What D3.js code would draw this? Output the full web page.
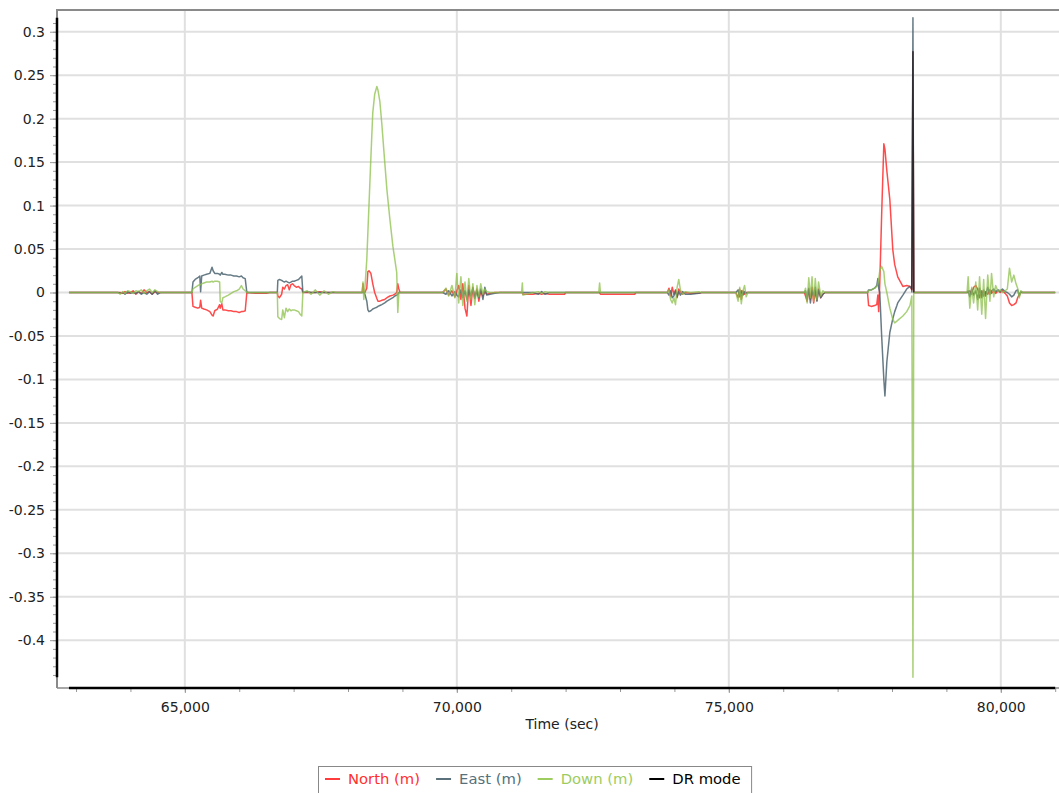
<!DOCTYPE html>
<html><head><meta charset="utf-8">
<script src="https://cdn.jsdelivr.net/npm/d3@7"></script>
<style>
html,body{margin:0;padding:0;background:#fff;}
svg{display:block;font-family:Verdana,"DejaVu Sans",sans-serif;}
</style></head><body>
<svg id="chart" width="1059" height="793"></svg>
<script>
// ---- data (time in seconds, values in metres) ----
const time = [
  62870, 63770, 63810, 63860, 63900, 63950, 64000, 64050, 64100, 64150, 64200, 64250, 64300, 64350, 64400, 64450, 64500, 64550,
  65130, 65150, 65190, 65240, 65275, 65290, 65310, 65350, 65400, 65460, 65500, 65520, 65550, 65600, 65640, 65650, 65680, 65700, 65735, 65800, 65850, 65900, 65950, 66000, 66040, 66070, 66110, 66140, 66300, 66500, 66560,
  66700, 66710, 66740, 66780, 66800, 66830, 66860, 66890, 66920, 66950, 66980, 67010, 67050, 67090, 67120, 67150, 67170, 67250, 67320, 67400, 67480, 67560, 67640, 67720, 67780,
  68260, 68275, 68290, 68310, 68345, 68365, 68385, 68420, 68455, 68490, 68530, 68550, 68585, 68620, 68675, 68715, 68770, 68825, 68860, 68895, 68915, 68935, 68955,
  69740, 69800, 69850, 69910, 69965, 70000, 70035, 70075, 70110, 70150, 70185, 70220, 70260, 70295, 70330, 70370, 70405, 70440, 70480, 70515, 70550, 70610, 70700, 70790,
  71190, 71205, 71215, 71400, 71500, 71560, 71620, 71700, 71980, 72000,
  72610, 72625, 72640, 73270, 73290,
  73870, 73900, 73930, 73960, 73990, 74020, 74050, 74080, 74110, 74150, 74200, 74300, 74450, 74500,
  75130, 75170, 75200, 75230, 75260, 75290, 75320, 75350,
  76390, 76410, 76440, 76470, 76500, 76530, 76560, 76590, 76620, 76650, 76690, 76730, 76770,
  77550, 77570, 77620, 77680, 77720, 77740, 77755, 77775, 77810, 77850, 77870, 77905, 77960, 78015, 78050, 78090, 78105, 78200, 78270, 78330, 78365, 78385, 78400,
  79380, 79400, 79430, 79465, 79500, 79540, 79575, 79610, 79650, 79685, 79720, 79760, 79800, 79830, 79870, 79905, 79950, 79990, 80030, 80080, 80120, 80160, 80200, 80240, 80280, 80310, 80340, 80370, 80400, 81000
];
const north = [
  0, 0, 0, -0.001, 0.001, -0.001, 0, 0.002, -0.002, 0.001, -0.001, 0.003, 0, 0.001, -0.002, 0.001, 0, 0,
  0, -0.016, -0.017, -0.018, -0.017, -0.009, -0.018, -0.019, -0.020, -0.022, -0.026, -0.027, -0.021, -0.019, -0.014, -0.018, -0.013, -0.020, -0.020, -0.021, -0.021, -0.022, -0.022, -0.023, -0.022, -0.022, -0.021, 0, -0.001, -0.001, 0,
  0, -0.004, -0.006, -0.002, 0.006, 0.004, 0.008, 0.009, 0.003, 0.009, 0.010, 0.008, 0.006, 0.007, 0.005, 0.004, 0, 0, 0, 0, 0.001, 0, 0, 0, 0,
  0, 0.010, 0, 0, 0.005, 0.024, 0.025, 0.022, 0.010, 0, -0.007, -0.010, -0.010, -0.009, -0.008, -0.006, -0.004, -0.003, -0.002, 0, 0.010, 0.004, 0,
  0, 0.004, -0.003, 0.002, -0.005, 0.002, 0.008, -0.008, 0.010, -0.018, -0.027, 0.008, -0.015, 0.006, -0.006, 0.004, -0.010, 0.002, -0.004, 0.001, -0.002, -0.001, 0, 0,
  0, 0, -0.002, -0.002, -0.001, -0.002, -0.001, -0.002, -0.002, 0,
  0, 0, -0.002, -0.002, 0,
  0, 0.005, -0.004, 0.006, -0.002, 0.003, -0.006, 0.004, 0.001, -0.002, 0, -0.001, -0.001, 0,
  0, -0.006, 0.004, -0.008, 0.002, -0.002, 0, 0,
  0, -0.004, -0.010, 0.004, -0.008, 0.006, -0.012, 0.002, -0.009, 0.004, -0.006, -0.002, 0,
  0, -0.015, -0.016, -0.015, -0.014, -0.003, -0.022, 0.010, 0.090, 0.171, 0.165, 0.140, 0.107, 0.049, 0.032, 0.022, 0.018, 0.007, 0.008, 0.007, 0.003, 0.277, 0,
  0, 0, 0.002, -0.002, 0.006, 0.008, 0.004, -0.006, 0.002, -0.004, 0.001, -0.002, 0.003, -0.001, 0.002, -0.001, 0.002, 0, 0.002, -0.001, -0.004, -0.012, -0.015, -0.014, -0.012, -0.006, -0.002, 0, 0, 0
];
const east = [
  0, 0, -0.001, 0, -0.002, 0.001, -0.001, 0, -0.001, 0.001, -0.002, 0, -0.002, 0.001, -0.002, 0.002, -0.002, 0,
  0, 0.012, 0.015, 0.017, 0.019, 0.001, 0.019, 0.020, 0.021, 0.022, 0.029, 0.025, 0.022, 0.022, 0.021, 0.020, 0.023, 0.021, 0.021, 0.020, 0.020, 0.019, 0.019, 0.018, 0.019, 0.017, 0.016, 0, 0, 0, 0,
  0, 0.014, 0.015, 0.014, 0.013, 0.012, 0.013, 0.012, 0.011, 0.012, 0.013, 0.013, 0.014, 0.015, 0.017, 0.019, 0, 0.001, 0, 0, 0, 0, 0, 0, 0,
  0, 0, 0, -0.002, -0.010, -0.020, -0.022, -0.021, -0.019, -0.018, -0.017, -0.016, -0.015, -0.014, -0.012, -0.010, -0.008, -0.006, -0.004, -0.003, -0.002, 0, 0,
  0, -0.002, 0.002, -0.004, 0.001, -0.003, -0.005, 0.003, -0.006, 0.002, -0.008, 0.003, -0.004, 0.005, -0.007, 0.002, -0.006, 0.004, -0.008, 0.006, -0.003, -0.002, -0.001, 0,
  0, 0, 0, 0, -0.002, 0.001, -0.002, 0, 0, 0,
  0, 0, 0, 0, 0,
  0, -0.003, 0.002, -0.006, -0.004, 0.002, -0.005, 0.001, -0.003, 0.001, -0.002, -0.002, -0.001, 0,
  0, 0.003, -0.005, 0.002, -0.003, 0.001, -0.001, 0,
  0, 0.002, -0.008, 0.005, -0.012, 0.002, -0.004, 0.006, -0.010, 0.003, -0.006, -0.002, 0,
  0, 0.003, 0.003, 0.005, 0.008, 0.016, 0.005, 0, -0.050, -0.100, -0.119, -0.080, -0.046, -0.030, -0.022, -0.015, -0.012, -0.003, 0.004, 0.007, 0.004, 0.316, 0,
  0, 0.002, -0.005, 0.004, -0.003, 0.002, -0.008, 0.005, -0.006, 0.003, -0.004, 0.006, -0.002, 0.002, 0.004, 0.001, 0.003, 0.001, 0.004, 0.001, 0, -0.002, -0.005, -0.003, 0.002, 0.003, -0.004, 0.001, 0, 0
];
const down = [
  0, 0, -0.002, 0.001, -0.001, 0.002, 0.001, -0.001, 0.002, 0.001, 0.003, -0.001, 0.002, 0.004, 0, 0.003, 0.001, 0,
  0, 0.004, 0.006, 0.008, 0.009, 0.009, 0.010, 0.011, 0.012, 0.012, 0.013, 0.012, 0.013, 0.013, 0.012, -0.010, -0.012, -0.006, -0.005, -0.003, -0.001, 0.001, 0.002, 0.004, 0.008, 0.004, 0.002, 0, 0, 0, 0,
  0, -0.028, -0.030, -0.031, -0.020, -0.029, -0.018, -0.022, -0.019, -0.021, -0.020, -0.020, -0.021, -0.022, -0.025, -0.027, 0, 0.002, -0.002, 0.003, -0.003, 0.002, -0.002, 0.001, 0,
  0, 0.012, -0.008, 0.005, 0.038, 0.069, 0.100, 0.155, 0.207, 0.228, 0.237, 0.233, 0.220, 0.195, 0.150, 0.118, 0.084, 0.053, 0.038, 0.023, -0.023, 0, 0,
  0, 0.005, -0.004, 0.008, -0.006, 0.022, -0.012, 0.018, -0.015, 0.012, -0.010, 0.016, -0.008, 0.010, -0.014, 0.008, -0.005, 0.010, -0.002, 0.004, 0.001, 0, 0, 0,
  0, 0.011, -0.003, 0, 0.001, -0.001, 0.001, 0, 0, 0,
  0, 0.011, 0, 0, 0,
  0, 0.003, -0.008, -0.012, -0.006, -0.014, 0.006, 0.015, 0.003, -0.002, 0.001, 0, 0.001, 0,
  0, -0.010, 0.006, -0.013, 0.002, 0.008, -0.005, 0,
  0, 0.005, -0.012, 0.017, -0.006, 0.018, -0.010, 0.016, -0.008, 0.012, -0.004, 0.002, 0,
  0, 0.002, 0.003, 0.005, 0.007, 0.010, 0.015, 0.025, 0.030, 0.024, 0.010, 0, -0.018, -0.031, -0.035, -0.033, -0.032, -0.027, -0.022, -0.015, -0.004, -0.4425, 0,
  0, 0.018, -0.018, 0.006, -0.012, 0.012, -0.020, 0.018, -0.025, 0.015, -0.030, 0.020, -0.010, 0.022, -0.005, 0.008, 0.001, 0.003, 0, 0.002, 0.004, 0.028, 0.012, 0.020, 0.010, 0.005, -0.006, 0.002, 0, 0
];
const drTime = [78365, 78385, 78400];
const drMode = [0, 0.277, 0];

const yTickValues = [0.3, 0.25, 0.2, 0.15, 0.1, 0.05, 0, -0.05, -0.1, -0.15, -0.2, -0.25, -0.3, -0.35, -0.4];
const yTickLabels = ["0.3", "0.25", "0.2", "0.15", "0.1", "0.05", "0", "-0.05", "-0.1", "-0.15", "-0.2", "-0.25", "-0.3", "-0.35", "-0.4"];
const xTickValues = [65000, 70000, 75000, 80000];
const xTickLabels = ["65,000", "70,000", "75,000", "80,000"];
const xTitle = "Time (sec)";
const seriesNames = ["North (m)", "East (m)", "Down (m)", "DR mode"];
const seriesColors = ["#ff2b2b", "#4b6470", "#8cc04a", "#000000"];
const legendTextColors = ["#ff3030", "#56707c", "#9dcc5f", "#000000"];

// ---- layout ----
const L = 57, R = 1059, T = 10, B = 688;
const svg = d3.select("#chart");
const x = d3.scaleLinear().domain([62650, 81070]).range([L, R]);
const y = d3.scaleLinear().domain([-0.455, 0.325]).range([B, T]);

const allVals = north.concat(east, down, drMode);
const vMin = d3.min(allVals), vMax = d3.max(allVals);
const tMin = d3.min(time), tMax = d3.max(time);

// gridlines
svg.append("g").selectAll("line").data(yTickValues).join("line")
  .attr("x1", L).attr("x2", R).attr("y1", d => y(d)).attr("y2", d => y(d))
  .attr("stroke", "#e0e0e0").attr("stroke-width", 2);
svg.append("g").selectAll("line").data(xTickValues).join("line")
  .attr("y1", T).attr("y2", B).attr("x1", d => x(d)).attr("x2", d => x(d))
  .attr("stroke", "#e0e0e0").attr("stroke-width", 2);

// frame
svg.append("path").attr("d", `M${L},${B}V${T}H${R}`).attr("fill", "none").attr("stroke", "#8a8a8a").attr("stroke-width", 2);
svg.append("line").attr("x1", L).attr("x2", R).attr("y1", B).attr("y2", B).attr("stroke", "#8a8a8a").attr("stroke-width", 1.5);

// y axis
const yMinor = d3.range(-50, 40).map(i => i / 100).filter(v => v >= vMin && v <= vMax);
const gyMinor = svg.append("g").attr("transform", `translate(${L - 1},0)`)
  .call(d3.axisLeft(y).tickValues(yMinor).tickSize(3).tickFormat(""));
gyMinor.select(".domain").remove();
gyMinor.selectAll("line").attr("stroke", "#999");
const gy = svg.append("g").attr("transform", `translate(${L - 1},0)`)
  .call(d3.axisLeft(y).tickValues(yTickValues).tickFormat((d, i) => yTickLabels[i]).tickSize(6).tickPadding(5));
gy.select(".domain").remove();
gy.selectAll("line").attr("stroke", "#999");
gy.selectAll("text").attr("font-size", 14).attr("fill", "#222").attr("font-family", 'Verdana,"DejaVu Sans",sans-serif');
svg.append("line").attr("x1", L).attr("x2", L).attr("y1", y(vMax)).attr("y2", y(vMin))
  .attr("stroke", "#000").attr("stroke-width", 2.5);

// x axis
const xMinor = d3.range(62000, 82000, 1000).filter(v => v >= tMin && v <= tMax);
const gxMinor = svg.append("g").attr("transform", `translate(0,${B})`)
  .call(d3.axisBottom(x).tickValues(xMinor).tickSize(4).tickFormat(""));
gxMinor.select(".domain").remove();
gxMinor.selectAll("line").attr("stroke", "#999");
const gx = svg.append("g").attr("transform", `translate(0,${B})`)
  .call(d3.axisBottom(x).tickValues(xTickValues).tickFormat((d, i) => xTickLabels[i]).tickSize(5).tickPadding(9));
gx.select(".domain").remove();
gx.selectAll("line").attr("stroke", "#999");
gx.selectAll("text").attr("font-size", 14).attr("fill", "#222").attr("font-family", 'Verdana,"DejaVu Sans",sans-serif');
svg.append("line").attr("x1", x(tMin)).attr("x2", x(tMax)).attr("y1", B).attr("y2", B)
  .attr("stroke", "#000").attr("stroke-width", 2.5);

svg.append("text").attr("x", (x(tMin) + x(tMax)) / 2).attr("y", 729)
  .attr("text-anchor", "middle").attr("font-size", 14).attr("fill", "#222").text(xTitle);

// series
const line = d3.line().x(d => x(d[0])).y(d => y(d[1]));
const seriesData = [
  time.map((t, i) => [t, north[i]]),
  time.map((t, i) => [t, east[i]]),
  time.map((t, i) => [t, down[i]]),
  drTime.map((t, i) => [t, drMode[i]])
];
const seriesOpacity = [0.85, 0.85, 0.75, 0.55];
const drawOrder = [0, 1, 2, 3];
drawOrder.forEach(k => {
  svg.append("path").datum(seriesData[k]).attr("d", line)
    .attr("fill", "none").attr("stroke", seriesColors[k])
    .attr("stroke-width", 1.5).attr("stroke-opacity", seriesOpacity[k])
    .attr("stroke-linejoin", "round");
});

// legend
const lg = svg.append("g");
const lgBox = lg.append("rect").attr("x", 318.5).attr("y", 766.5).attr("height", 40)
  .attr("fill", "#fff").attr("stroke", "#888").attr("stroke-width", 1);
const legendSwatch = ["#ff3b3b", "#5a707a", "#9dcc5f", "#000000"];
let cx = 325;
seriesNames.forEach((name, i) => {
  lg.append("line").attr("x1", cx).attr("x2", cx + 15).attr("y1", 779).attr("y2", 779)
    .attr("stroke", legendSwatch[i]).attr("stroke-width", 2);
  const t = lg.append("text").attr("x", cx + 23).attr("y", 784).attr("font-size", 14.8)
    .attr("fill", legendTextColors[i]).text(name);
  const w = t.node().getComputedTextLength();
  cx = cx + 23 + w + 16;
});
lgBox.attr("width", cx - 16 + 11 - 318.5);
</script>
</body></html>
